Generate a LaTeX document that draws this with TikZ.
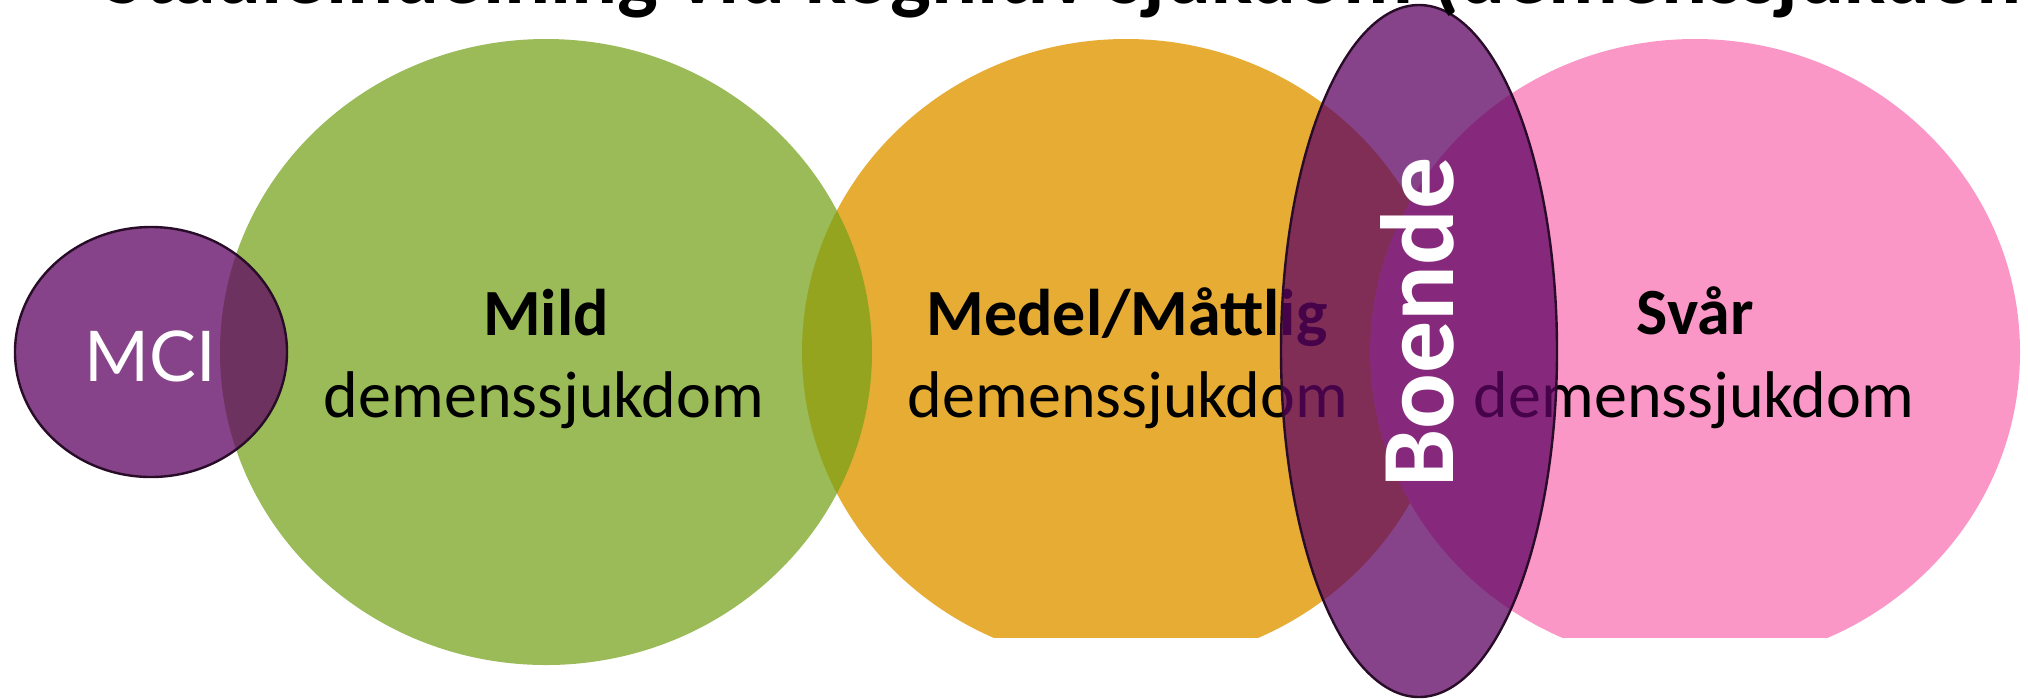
\documentclass[tikz,border=0pt]{standalone}
\usepackage{fontspec}
\setmainfont{Carlito}
\newfontfamily\mcifont{Lato}
\usetikzlibrary{shapes.geometric}
\definecolor{greenfill}{RGB}{116,161,24}
\definecolor{orangefill}{RGB}{231,172,52}
\definecolor{pinkfill}{RGB}{251,151,199}
\definecolor{purplefill}{RGB}{95,5,99}
\definecolor{rimcol}{RGB}{40,12,40}
\tikzset{
  stage/.style={ellipse, inner sep=0pt, outer sep=0pt},
  rimmed/.style={stage, fill=purplefill, fill opacity=0.75, draw=rimcol, draw opacity=1, line width=1.2pt},
  stagetext/.style={inner sep=0pt, anchor=base, text=black, font=\fontsize{33}{39}\selectfont},
  stagehead/.style={inner sep=0pt, anchor=base, text=black, font=\fontsize{33}{39}\selectfont\bfseries},
}
\begin{document}
\begin{tikzpicture}[x=0.5pt, y=-0.5pt]
\path[use as bounding box] (0,0) rectangle (2028,698);
\clip (0,0) rectangle (2028,698);
\fill[white] (0,0) rectangle (2028,698);
\begin{scope}
  \clip (0,0) rectangle (2028,637);
  \node[stage, fill=orangefill, minimum width=324pt, minimum height=313pt] (orange) at (1126,352) {};
  \node[stage, fill=pinkfill, minimum width=325pt, minimum height=313pt] (pink) at (1695,352) {};
\end{scope}
\node[stage, fill=greenfill, fill opacity=0.72, minimum width=326pt, minimum height=313pt] (green) at (546,352) {};
\node[rimmed, minimum width=136pt, minimum height=125pt] (mci) at (151,352) {};
\node[inner sep=0pt, anchor=base, text=white, font=\mcifont\fontsize{35}{42}\selectfont] (mcitext) at (150,381) {MCI};
\node[stagehead] (mildhead) at (546,335) {Mild};
\node[stagetext] (mildtext) at (544,417) {demenssjukdom};
\node[stagehead] (medelhead) at (1127,335) {Medel/Måttlig};
\node[stagetext] (medeltext) at (1128,417) {demenssjukdom};
\node[stagehead] (svarhead) at (1695,334) {Svår};
\node[stagetext] (svartext) at (1694,417) {demenssjukdom};
\node[rimmed, minimum width=138pt, minimum height=346pt] (boende) at (1419,351) {};
\node[rotate=90, anchor=base west, inner sep=0pt, text=white, font=\fontsize{52}{60}\selectfont\bfseries] (boendetext) at (1453,488) {Boende};
\node[anchor=base west, inner sep=0pt, text=black, font=\fontsize{43}{50}\selectfont\bfseries] (title) at (103,3) {Stadieindelning vid kognitiv sjukdom (demenssjukdom)};
\end{tikzpicture}
\end{document}
